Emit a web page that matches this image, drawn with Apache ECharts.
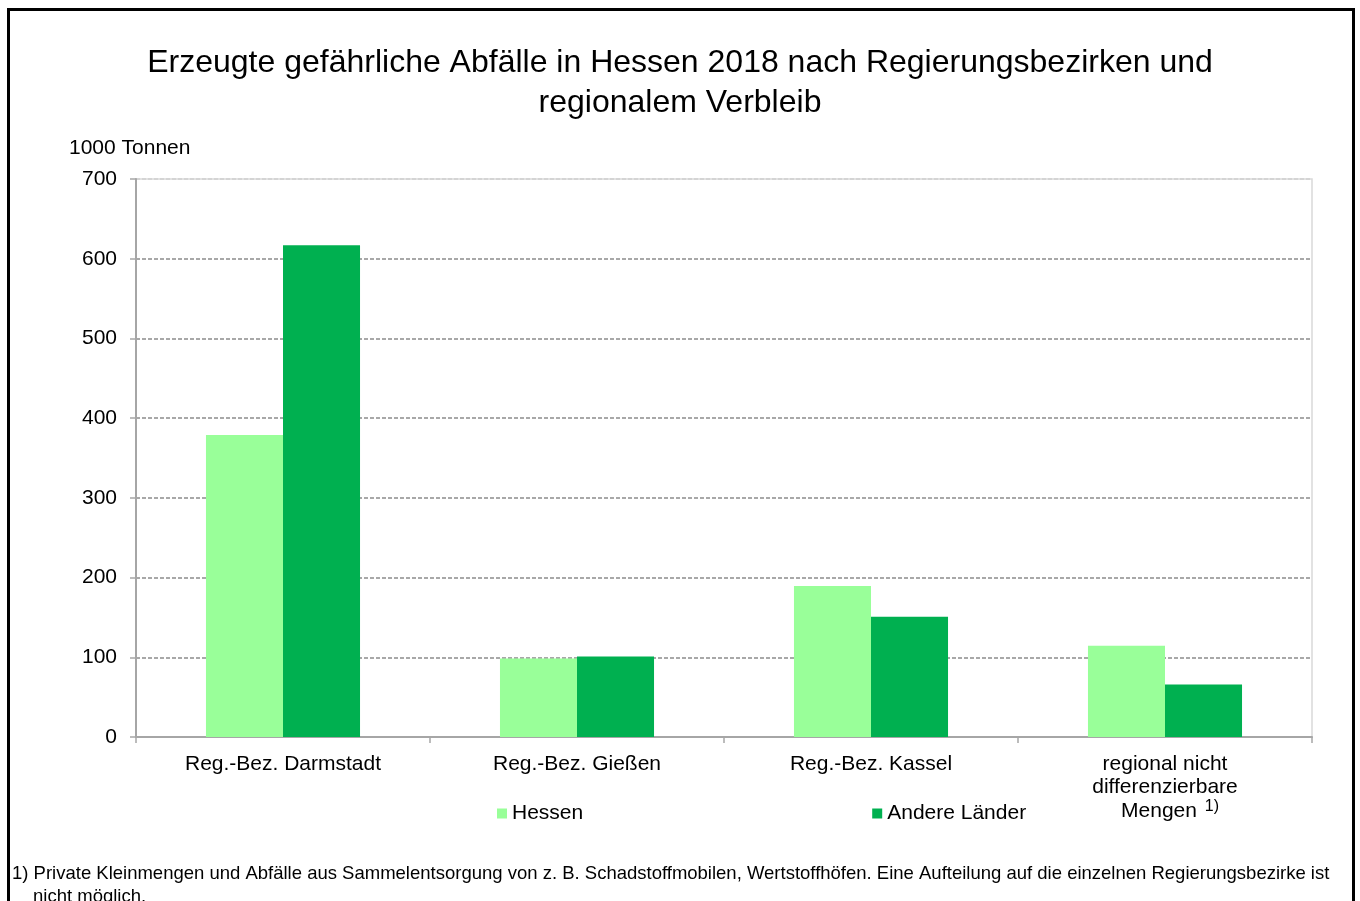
<!DOCTYPE html>
<html>
<head>
<meta charset="utf-8">
<script src="https://cdn.jsdelivr.net/npm/echarts@6.0.0/dist/echarts.min.js"></script>
<style>
  html, body { margin: 0; padding: 0; background: #fff; }
  #main { width: 1360px; height: 901px; }
</style>
</head>
<body>
<div id="main"></div>
<script>
// Werte in 1000 Tonnen
var categories = ['Reg.-Bez. Darmstadt', 'Reg.-Bez. Gießen', 'Reg.-Bez. Kassel', 'regional nicht\ndifferenzierbare\n{m|Mengen }{sup|1)}'];
var hessen = [379, 98.5, 189.5, 114.5];
var andereLaender = [617, 101, 151, 66];
var yTicks = [0, 100, 200, 300, 400, 500, 600, 700];

var font = '"Liberation Sans", Arial, sans-serif';
var chart = echarts.init(document.getElementById('main'));

chart.setOption({
  animation: false,
  backgroundColor: '#fff',
  textStyle: { fontFamily: font },
  title: {
    text: 'Erzeugte gefährliche Abfälle in Hessen 2018 nach Regierungsbezirken und\nregionalem Verbleib',
    left: 'center',
    top: 38,
    textStyle: { fontFamily: font, fontSize: 32, fontWeight: 'normal', color: '#000', lineHeight: 40 }
  },
  legend: {
    left: 492,
    top: 798,
    itemWidth: 10,
    itemHeight: 10,
    itemGap: 289,
    icon: 'rect',
    textStyle: { fontFamily: font, fontSize: 21, color: '#000' },
    data: ['Hessen', 'Andere Länder']
  },
  grid: {
    left: 136, right: 48, top: 179, bottom: 164,
    show: true, borderColor: '#d9d9d9', borderWidth: 1.5,
    containLabel: false
  },
  xAxis: {
    type: 'category',
    data: categories,
    axisLine: { lineStyle: { color: '#a6a6a6', width: 2 } },
    axisTick: { show: true, length: 6, lineStyle: { color: '#a6a6a6', width: 1.5 } },
    axisLabel: {
      color: '#000', fontSize: 21, margin: 15, lineHeight: 23.5, interval: 0,
      rich: {
        m: { fontSize: 21, color: '#000', lineHeight: 23.5, padding: [0, 2, 0, 10] },
        sup: { fontSize: 16, color: '#000', verticalAlign: 'top', lineHeight: 12 }
      }
    }
  },
  yAxis: {
    type: 'value',
    min: yTicks[0],
    max: yTicks[yTicks.length - 1],
    interval: 100,
    axisLine: { show: true, lineStyle: { color: '#a6a6a6', width: 2 } },
    axisTick: { show: true, length: 6, lineStyle: { color: '#a6a6a6', width: 1.5 } },
    axisLabel: { color: '#000', fontSize: 21, margin: 19 },
    splitLine: {
      lineStyle: {
        color: ['#8c8c8c', '#8c8c8c', '#8c8c8c', '#8c8c8c', '#8c8c8c', '#8c8c8c', '#8c8c8c', '#cfcfcf'],
        type: [4, 2], width: 1.5
      }
    }
  },
  series: [
    {
      name: 'Hessen', type: 'bar', data: hessen,
      barGap: '0%', barCategoryGap: '47.6%',
      itemStyle: { color: '#99ff99' }
    },
    {
      name: 'Andere Länder', type: 'bar', data: andereLaender,
      itemStyle: { color: '#00b050' }
    }
  ],
  graphic: [
    {
      type: 'rect',
      shape: { x: 8.5, y: 9.5, width: 1345, height: 960 },
      style: { fill: 'none', stroke: '#000', lineWidth: 3 },
      silent: true
    },
    {
      type: 'text', left: 69, top: 138,
      style: { text: '1000 Tonnen', font: '21px ' + font, fill: '#000' }
    },
    {
      type: 'text', left: 12, top: 864,
      style: {
        text: '1) Private Kleinmengen und Abfälle aus Sammelentsorgung von z. B. Schadstoffmobilen, Wertstoffhöfen. Eine Aufteilung auf die einzelnen Regierungsbezirke ist',
        font: '18.5px ' + font, fill: '#000'
      }
    },
    {
      type: 'text', left: 33, top: 887,
      style: { text: 'nicht möglich.', font: '18.5px ' + font, fill: '#000' }
    }
  ]
});
</script>
</body>
</html>
